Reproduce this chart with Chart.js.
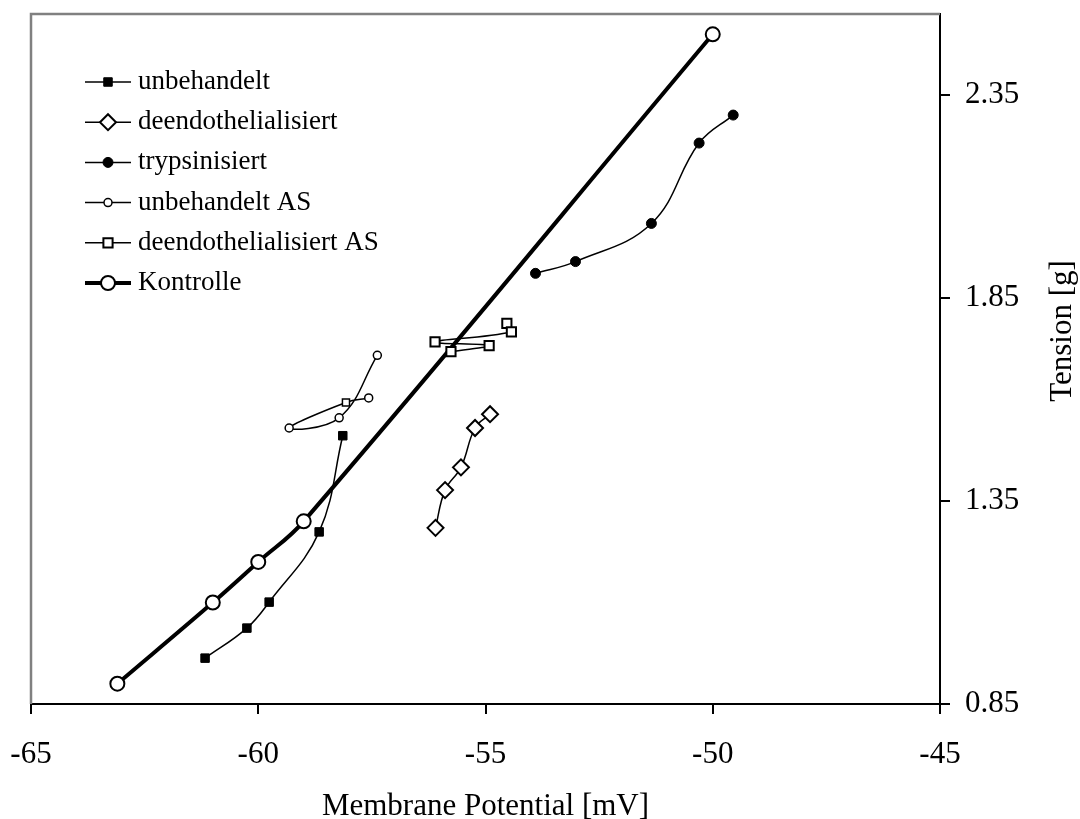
<!DOCTYPE html>
<html>
<head>
<meta charset="utf-8">
<script src="https://cdn.jsdelivr.net/npm/chart.js@4"></script>
<style>
    html, body { margin: 0; padding: 0; background: #fff; }
    #wrap { width: 1080px; height: 819px; }
</style>
</head>
<body>
<div id="wrap"><canvas id="chart" width="1080" height="819"></canvas></div>
<script>
// values
const xTicks = [-65, -60, -55, -50, -45];
const yTicks = [0.85, 1.35, 1.85, 2.35];

const unbehandeltX = [-61.17, -60.25, -59.76, -58.66, -58.14];
const unbehandeltY = [0.963, 1.037, 1.101, 1.274, 1.511];

const deendoX = [-56.10, -55.89, -55.54, -55.23, -54.90];
const deendoY = [1.284, 1.377, 1.433, 1.530, 1.564];

const trypsinX = [-53.90, -53.02, -51.35, -50.30, -49.55];
const trypsinY = [1.911, 1.940, 2.034, 2.232, 2.301];

const unbehandeltAsX = [-57.57, -58.07, -59.32, -58.22, -57.38];
const unbehandeltAsY = [1.604, 1.593, 1.530, 1.555, 1.709];

const deendoAsX = [-54.53, -54.43, -56.11, -54.92, -55.76];
const deendoAsY = [1.788, 1.767, 1.742, 1.733, 1.718];

const kontrolleX = [-63.1, -61.0, -60.0, -59.0, -50.0];
const kontrolleY = [0.90, 1.10, 1.20, 1.30, 2.50];

const serif = "'Liberation Serif', 'Times New Roman', serif";
const legendTop = 82;
const legendStep = 40.2;

const toPoints = (xs, ys) => xs.map((x, i) => ({x: x, y: ys[i]}));

Chart.defaults.font.family = serif;
Chart.defaults.color = '#000';

const frame = {
    id: 'frame',
    beforeDatasetsDraw(chart)
    {
        const {ctx, chartArea} = chart;
        ctx.save();
        ctx.strokeStyle = '#808080';
        ctx.lineWidth = 2.5;
        ctx.beginPath();
        ctx.moveTo(chartArea.left, chartArea.bottom);
        ctx.lineTo(chartArea.left, chartArea.top);
        ctx.lineTo(chartArea.right, chartArea.top);
        ctx.stroke();
        ctx.restore();
    },
    afterDraw(chart)
    {
        const {ctx, chartArea} = chart;
        ctx.save();
        ctx.fillStyle = '#000';
        ctx.font = '31px ' + serif;
        ctx.textAlign = 'center';
        ctx.textBaseline = 'alphabetic';
        ctx.fillText('Membrane Potential [mV]', (chartArea.left + chartArea.right) / 2, 815);

        ctx.translate(1071, 331);
        ctx.rotate(-Math.PI / 2);
        ctx.fillText('Tension [g]', 0, 0);
        ctx.restore();
    }
};

const insideLegend = {
    id: 'insideLegend',
    afterDraw(chart)
    {
        const ctx = chart.ctx;
        chart.data.datasets.forEach((ds, i) =>
        {
            const y = legendTop + i * legendStep;
            ctx.save();
            ctx.strokeStyle = '#000';
            ctx.lineWidth = ds.borderWidth;
            ctx.beginPath();
            ctx.moveTo(85, y);
            ctx.lineTo(131, y);
            ctx.stroke();

            const style = Array.isArray(ds.pointStyle) ? ds.pointStyle[0] : ds.pointStyle;
            ctx.fillStyle = ds.pointBackgroundColor;
            ctx.strokeStyle = ds.pointBorderColor;
            ctx.lineWidth = ds.pointBorderWidth;
            Chart.helpers.drawPoint(ctx, {
                pointStyle: style,
                rotation: 0,
                radius: Array.isArray(ds.pointRadius) ? ds.pointRadius[0] : ds.pointRadius,
                borderWidth: ds.pointBorderWidth
            }, 108, y);

            ctx.fillStyle = '#000';
            ctx.font = '27px ' + serif;
            ctx.textAlign = 'left';
            ctx.textBaseline = 'middle';
            ctx.fillText(ds.label, 138, y);
            ctx.restore();
        });
    }
};

new Chart(document.getElementById('chart'), {
    type: 'line',
    data: {
        datasets: [
            {
                label: 'unbehandelt',
                data: toPoints(unbehandeltX, unbehandeltY),
                borderColor: '#000',
                borderWidth: 1.5,
                pointStyle: 'rect',
                pointRadius: 6,
                pointBackgroundColor: '#000',
                pointBorderColor: '#000',
                pointBorderWidth: 1,
                tension: 0.4
            },
            {
                label: 'deendothelialisiert',
                data: toPoints(deendoX, deendoY),
                borderColor: '#000',
                borderWidth: 1.5,
                pointStyle: 'rectRot',
                pointRadius: 8,
                pointBackgroundColor: '#fff',
                pointBorderColor: '#000',
                pointBorderWidth: 2,
                tension: 0.4
            },
            {
                label: 'trypsinisiert',
                data: toPoints(trypsinX, trypsinY),
                borderColor: '#000',
                borderWidth: 1.5,
                pointStyle: 'circle',
                pointRadius: 5,
                pointBackgroundColor: '#000',
                pointBorderColor: '#000',
                pointBorderWidth: 1,
                tension: 0.4
            },
            {
                label: 'unbehandelt AS',
                data: toPoints(unbehandeltAsX, unbehandeltAsY),
                borderColor: '#000',
                borderWidth: 1.5,
                pointStyle: ['circle', 'rect', 'circle', 'circle', 'circle'],
                pointRadius: [4, 5, 4, 4, 4],
                pointBackgroundColor: '#fff',
                pointBorderColor: '#000',
                pointBorderWidth: 1.5,
                tension: 0.4
            },
            {
                label: 'deendothelialisiert AS',
                data: toPoints(deendoAsX, deendoAsY),
                borderColor: '#000',
                borderWidth: 1.5,
                pointStyle: 'rect',
                pointRadius: 6.5,
                pointBackgroundColor: '#fff',
                pointBorderColor: '#000',
                pointBorderWidth: 2,
                tension: 0.4
            },
            {
                label: 'Kontrolle',
                data: toPoints(kontrolleX, kontrolleY),
                borderColor: '#000',
                borderWidth: 4,
                pointStyle: 'circle',
                pointRadius: 7,
                pointBackgroundColor: '#fff',
                pointBorderColor: '#000',
                pointBorderWidth: 2,
                tension: 0.4
            }
        ]
    },
    options: {
        responsive: false,
        animation: false,
        devicePixelRatio: 1,
        layout: {padding: {left: 31, top: 14, right: 0, bottom: 0}},
        plugins: {
            legend: {display: false},
            tooltip: {enabled: false}
        },
        scales: {
            x: {
                type: 'linear',
                position: 'bottom',
                min: -65,
                max: -45,
                afterBuildTicks: axis => { axis.ticks = xTicks.map(v => ({value: v})); },
                afterFit: scale =>
                {
                    scale.height = 115;
                    scale.paddingLeft = 0;
                    scale.paddingRight = 0;
                },
                ticks: {
                    font: {size: 31},
                    color: '#000',
                    padding: 22,
                    maxRotation: 0,
                    callback: v => String(v)
                },
                grid: {drawOnChartArea: false, drawTicks: true, tickLength: 10, color: '#000', lineWidth: 2},
                border: {color: '#000', width: 2}
            },
            y: {
                type: 'linear',
                position: 'right',
                min: 0.85,
                max: 2.55,
                afterBuildTicks: axis => { axis.ticks = yTicks.map(v => ({value: v})); },
                afterFit: scale =>
                {
                    scale.width = 140;
                    scale.paddingTop = 0;
                    scale.paddingBottom = 0;
                },
                ticks: {
                    font: {size: 31},
                    color: '#000',
                    padding: 15,
                    callback: v => v.toFixed(2)
                },
                grid: {drawOnChartArea: false, drawTicks: true, tickLength: 10, color: '#000', lineWidth: 2},
                border: {color: '#000', width: 2}
            }
        }
    },
    plugins: [frame, insideLegend]
});
</script>
</body>
</html>
